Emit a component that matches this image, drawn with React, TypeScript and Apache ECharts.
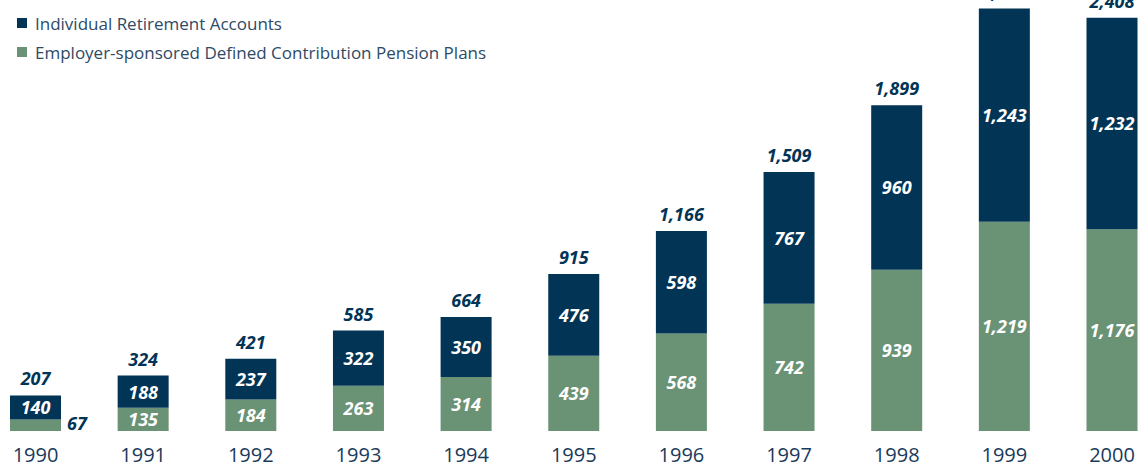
import React, { useEffect, useRef } from "react";
import * as echarts from "echarts";

const years = ["1990", "1991", "1992", "1993", "1994", "1995", "1996", "1997", "1998", "1999", "2000"];
const employerPlans = [67, 135, 184, 263, 314, 439, 568, 742, 939, 1219, 1176];
const iraValues = [140, 188, 237, 322, 350, 476, 598, 767, 960, 1243, 1232];
const totals = [207, 324, 421, 585, 664, 915, 1166, 1509, 1899, 2462, 2408];

const NAVY = "#023455";
const GREEN = "#6a9274";
const FONT = "'Open Sans', 'Noto Sans', sans-serif";

const fmt = (v: number) => v.toLocaleString("en-US");

export default function App() {
  const ref = useRef<HTMLDivElement>(null);
  useEffect(() => {
    if (!ref.current) return;
    const chart = echarts.init(ref.current, null, { renderer: "svg" });
    const valueLabel = {
      show: true,
      position: "inside",
      color: "#ffffff",
      fontFamily: FONT,
      fontSize: 18,
      fontWeight: "bold",
      fontStyle: "italic",
      formatter: (p: any) => fmt(p.value),
    };
    chart.setOption({
      animation: false,
      textStyle: { fontFamily: FONT },
      legend: {
        orient: "vertical",
        left: 12,
        top: 9,
        itemWidth: 10,
        itemHeight: 10,
        itemGap: 11,
        icon: "rect",
        data: ["Individual Retirement Accounts", "Employer-sponsored Defined Contribution Pension Plans"],
        textStyle: { color: "#2d4a66", fontSize: 17, fontFamily: FONT, lineHeight: 18, padding: [0, 0, 0, 3] },
      },
      grid: { left: 35.5, right: 26, top: 2, bottom: 37 },
      xAxis: {
        type: "category",
        data: years,
        boundaryGap: false,
        axisLine: { show: false },
        axisTick: { show: false },
        axisLabel: { color: "#1a3a5a", fontSize: 20, lineHeight: 20, fontFamily: FONT, margin: 13 },
      },
      yAxis: { type: "value", min: 0, max: 2500, show: false, splitLine: { show: false } },
      series: [
        {
          name: "Employer-sponsored Defined Contribution Pension Plans",
          type: "bar",
          stack: "total",
          barWidth: 51,
          clip: false,
          itemStyle: { color: GREEN },
          label: valueLabel,
          data: employerPlans.map((v, i) =>
            i === 0
              ? { value: v, label: { position: "right", color: NAVY, distance: 6, offset: [0, -2] } }
              : v
          ),
        },
        {
          name: "Individual Retirement Accounts",
          type: "bar",
          stack: "total",
          barWidth: 51,
          clip: false,
          itemStyle: { color: NAVY },
          label: valueLabel,
          data: iraValues,
        },
        {
          name: "Total",
          type: "bar",
          stack: "total",
          barWidth: 51,
          clip: false,
          itemStyle: { color: "transparent" },
          label: {
            show: true,
            position: "top",
            distance: 8,
            color: NAVY,
            fontFamily: FONT,
            fontSize: 18,
            fontWeight: "bold",
            fontStyle: "italic",
            formatter: (p: any) => fmt(totals[p.dataIndex]),
          },
          data: totals.map(() => 0),
        },
      ],
    });
    return () => chart.dispose();
  }, []);
  return (
    <div
      ref={ref}
      style={{ position: "fixed", left: 0, top: 0, width: 1138, height: 468, background: "#fff" }}
    />
  );
}
